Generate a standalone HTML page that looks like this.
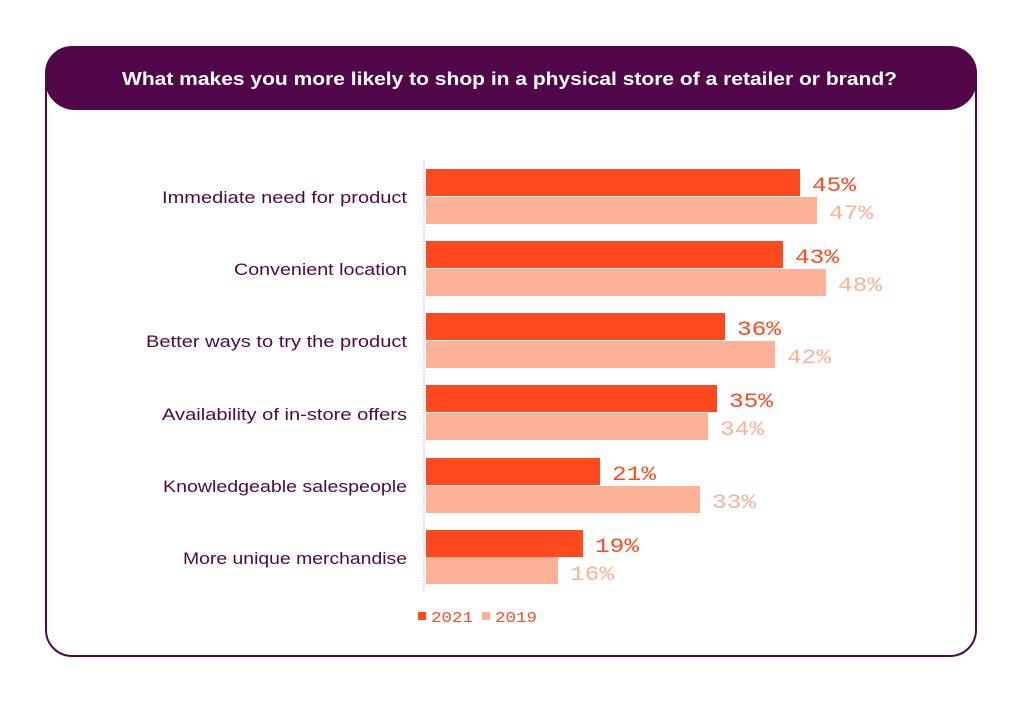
<!DOCTYPE html>
<html><head><style>
body{margin:0;background:#fff;}
.s{font-family:"Liberation Sans",sans-serif;}
.m{font-family:"Liberation Mono",monospace;}
</style></head><body>
<svg width="1024" height="706" xmlns="http://www.w3.org/2000/svg">
<rect x="0" y="0" width="1024" height="706" fill="#fff"/>
<rect x="46" y="47" width="930" height="609" rx="26" fill="#fff" stroke="#52064a" stroke-width="2"/>
<rect x="45" y="46" width="932" height="64" rx="30" fill="#52064a"/>
<text class="s" x="122" y="85" fill="#fff" font-size="18" font-weight="bold" textLength="775" lengthAdjust="spacingAndGlyphs">What makes you more likely to shop in a physical store of a retailer or brand?</text>
<line x1="424" y1="160" x2="424" y2="592" stroke="#e6e0e4" stroke-width="2" stroke-dasharray="2,1"/>
<g class="s" font-size="17" fill="#52064a">
<text x="162" y="203" textLength="245" lengthAdjust="spacingAndGlyphs">Immediate need for product</text>
<text x="234" y="275" textLength="173" lengthAdjust="spacingAndGlyphs">Convenient location</text>
<text x="146" y="347" textLength="261" lengthAdjust="spacingAndGlyphs">Better ways to try the product</text>
<text x="162" y="420" textLength="245" lengthAdjust="spacingAndGlyphs">Availability of in-store offers</text>
<text x="163" y="492" textLength="244" lengthAdjust="spacingAndGlyphs">Knowledgeable salespeople</text>
<text x="183" y="564" textLength="224" lengthAdjust="spacingAndGlyphs">More unique merchandise</text>
</g>
<g>
<rect x="426" y="169" width="374" height="27" fill="#ff4a1f"/><rect x="426" y="197" width="391" height="27" fill="#fdb196"/>
<rect x="426" y="241" width="357" height="27" fill="#ff4a1f"/><rect x="426" y="269" width="400" height="27" fill="#fdb196"/>
<rect x="426" y="313" width="299" height="27" fill="#ff4a1f"/><rect x="426" y="341" width="349" height="27" fill="#fdb196"/>
<rect x="426" y="385" width="291" height="27" fill="#ff4a1f"/><rect x="426" y="413" width="282" height="27" fill="#fdb196"/>
<rect x="426" y="458" width="174" height="27" fill="#ff4a1f"/><rect x="426" y="486" width="274" height="27" fill="#fdb196"/>
<rect x="426" y="530" width="157" height="27" fill="#ff4a1f"/><rect x="426" y="557" width="132" height="27" fill="#fdb196"/>
</g>
<g class="m" font-size="20">
<text x="812" y="191" fill="#ff4a1f" textLength="44" lengthAdjust="spacingAndGlyphs">45%</text><text x="829" y="219" fill="#fdb196" textLength="44" lengthAdjust="spacingAndGlyphs">47%</text>
<text x="795" y="263" fill="#ff4a1f" textLength="44" lengthAdjust="spacingAndGlyphs">43%</text><text x="838" y="291" fill="#fdb196" textLength="44" lengthAdjust="spacingAndGlyphs">48%</text>
<text x="737" y="335" fill="#ff4a1f" textLength="44" lengthAdjust="spacingAndGlyphs">36%</text><text x="787" y="363" fill="#fdb196" textLength="44" lengthAdjust="spacingAndGlyphs">42%</text>
<text x="729" y="407" fill="#ff4a1f" textLength="44" lengthAdjust="spacingAndGlyphs">35%</text><text x="720" y="435" fill="#fdb196" textLength="44" lengthAdjust="spacingAndGlyphs">34%</text>
<text x="612" y="480" fill="#ff4a1f" textLength="44" lengthAdjust="spacingAndGlyphs">21%</text><text x="712" y="508" fill="#fdb196" textLength="44" lengthAdjust="spacingAndGlyphs">33%</text>
<text x="595" y="552" fill="#ff4a1f" textLength="44" lengthAdjust="spacingAndGlyphs">19%</text><text x="570" y="580" fill="#fdb196" textLength="44" lengthAdjust="spacingAndGlyphs">16%</text>
</g>
<rect x="418" y="612" width="8" height="8" fill="#ff4a1f"/>
<rect x="482" y="612" width="8" height="8" fill="#fdb196"/>
<g class="m" font-size="15" fill="#ff4a1f">
<text x="431" y="622" textLength="42" lengthAdjust="spacingAndGlyphs">2021</text><text x="495" y="622" textLength="42" lengthAdjust="spacingAndGlyphs">2019</text>
</g>
</svg>
</body></html>
